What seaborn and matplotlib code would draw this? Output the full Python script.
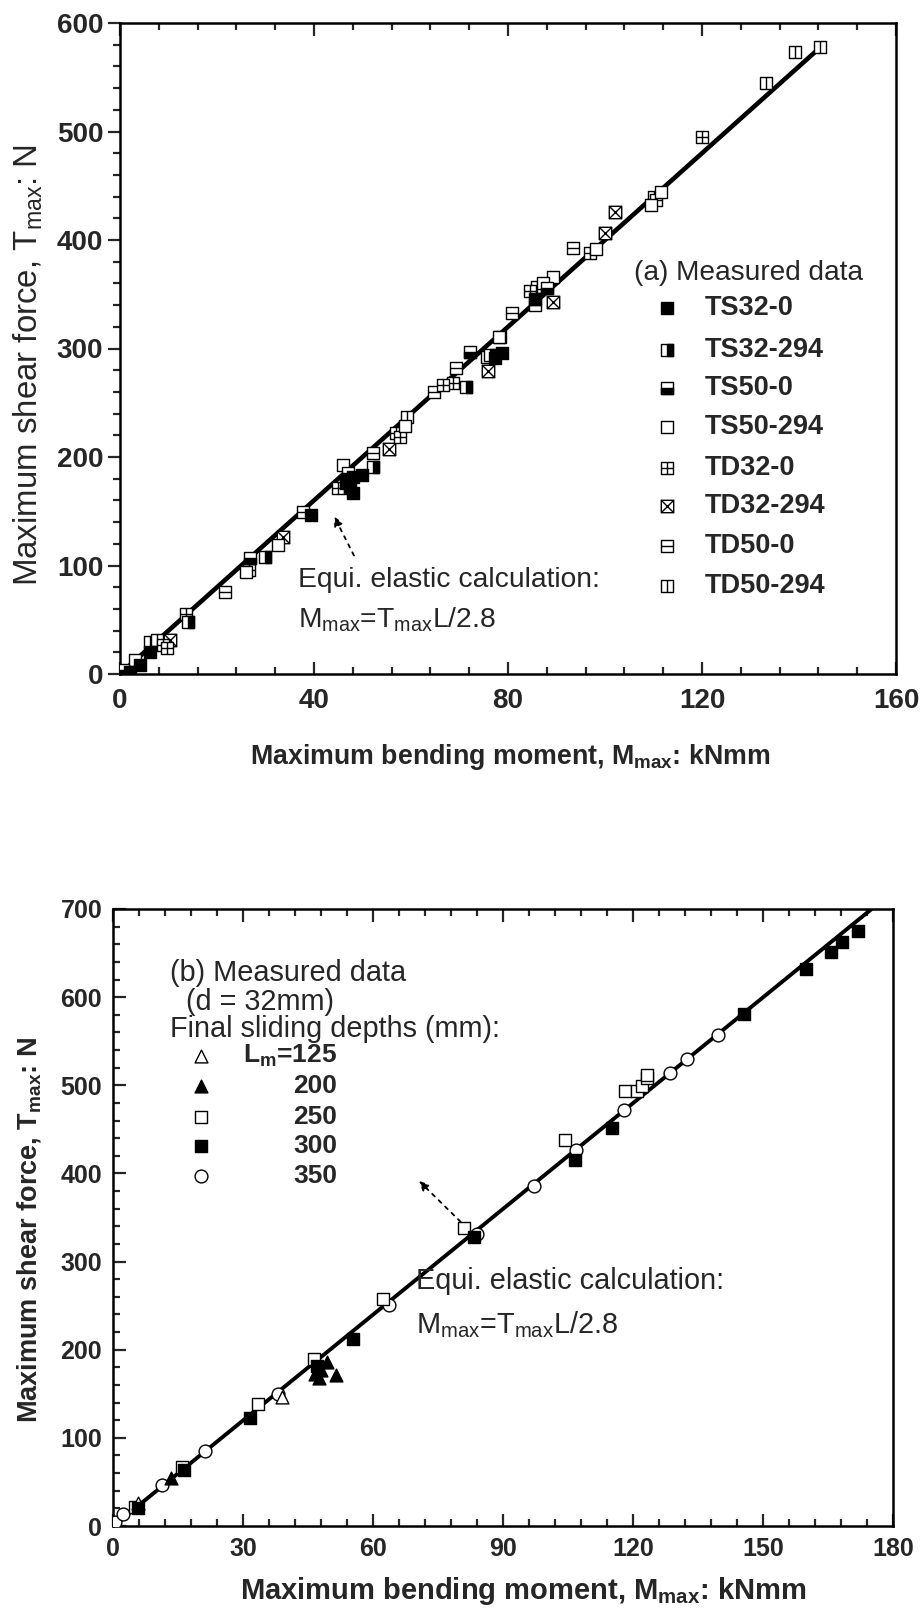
import numpy as np
import matplotlib
matplotlib.use("Agg")
import matplotlib.pyplot as plt
from matplotlib.path import Path
from matplotlib.ticker import MultipleLocator
import seaborn as sns

sns.set_theme(style="white")
plt.rcParams['font.family'] = ['Liberation Sans', 'DejaVu Sans']
plt.rcParams['mathtext.default'] = 'regular'

# ---------------- data (a) ----------------
ts32_0_x = [85.6, 78.7, 77.3, 47.4, 48.0, 49.8, 48.0, 39.3, 6.2, 4.1, 2.0, 46.5]
ts32_0_y = [346, 295.6, 291, 171, 182, 183.4, 166.8, 146.5, 20.6, 8.3, 2.0, 176]
ts32_294_x = [71.3, 52.2, 29.9, 14.1, 76.3]
ts32_294_y = [264.5, 191, 108.1, 48, 294]
ts50_0_x = [72.2, 26.8, 88.0, 0.7, 47.0]
ts50_0_y = [297, 106.6, 356, 3.7, 185]
ts50_294_x = [78.2, 75.6, 89.3, 87.2, 46.0, 98.1, 109.5, 111.5, 32.6, 26.0, 3.1, 58.8]
ts50_294_y = [311, 292, 365.6, 360.6, 192.6, 392, 432, 444, 118.9, 94, 12.9, 228.6]
td32_0_x = [119.9, 96.9, 84.5, 68.7, 66.5, 56.9, 57.7, 45.0, 26.5, 13.6, 8.9, 9.6, 78.4]
td32_0_y = [495, 388, 353, 267.8, 266, 221.8, 218.7, 171, 95.9, 55, 26.7, 23.7, 311]
td32_294_x = [102.0, 100.1, 89.2, 75.8, 55.5, 33.7, 10.3]
td32_294_y = [426, 406, 343, 279.6, 207.4, 126.5, 31.3]
td50_0_x = [93.3, 80.8, 69.3, 64.7, 52.2, 37.8, 21.6, 85.6, 110.5]
td50_0_y = [393, 333, 281.7, 260, 204, 149.7, 76, 340, 437]
td50_294_x = [139.2, 144.3, 133.1, 110.0, 59.1, 6.2, 7.6, 85.9]
td50_294_y = [573.6, 578, 545, 440, 237, 29.8, 31.3, 356.4]

# ---------------- data (b) ----------------
lm125_x = [5.8, 39.0]
lm125_y = [25.8, 146.7]
lm200_x = [13.4, 46.5, 48.0, 49.4, 51.5, 47.5]
lm200_y = [54, 173, 177, 186, 171, 168]
lm250_x = [5.1, 15.8, 33.5, 46.4, 62.3, 80.9, 104.2, 118.1, 120.9, 121.9, 123.1, 123.1]
lm250_y = [22, 67, 138, 190, 258, 338.5, 438, 494, 494, 499, 508, 512]
lm300_x = [5.6, 16.3, 31.5, 47.0, 55.4, 83.2, 106.5, 115.1, 145.6, 159.9, 165.6, 168.2, 171.9]
lm300_y = [20, 63, 122, 182, 212, 328, 415, 451, 581, 632, 651.6, 663, 675.4]
lm350_x = [0.3, 2.2, 11.3, 21.2, 38.1, 63.7, 84.0, 97.0, 106.8, 117.9, 128.5, 132.5, 139.6]
lm350_y = [4.7, 14, 47, 85, 150, 251, 331.5, 386, 426.6, 472, 514, 529.5, 557]

# equivalent elastic calculation M = T L / 2.8
L_mm = 700.0
line_a_M = np.array([0.0, 144.5])
line_b_M = np.array([0.0, 175.0])

def calc_T(M):
    return 2800.0 * M / L_mm

# ---------------- markers ----------------
M_, L_ = Path.MOVETO, Path.LINETO
sq_v = [(-1, -1), (1, -1), (1, 1), (-1, 1), (-1, -1)]
sq_c = [M_, L_, L_, L_, Path.CLOSEPOLY]
P_sq = Path(sq_v, sq_c)
P_grid = Path(sq_v + [(0, -1), (0, 1), (-1, 0), (1, 0)], sq_c + [M_, L_, M_, L_])
P_x = Path(sq_v + [(-1, -1), (1, 1), (-1, 1), (1, -1)], sq_c + [M_, L_, M_, L_])
P_h = Path(sq_v + [(-1, 0), (1, 0)], sq_c + [M_, L_])
P_v = Path(sq_v + [(0, -1), (0, 1)], sq_c + [M_, L_])
P_right = Path([(0, -1), (1, -1), (1, 1), (0, 1), (0, -1)], sq_c)
P_bottom = Path([(-1, -1), (1, -1), (1, 0), (-1, 0), (-1, -1)], sq_c)

MS_A = 80
LW_A = 1.0

def draw_a(ax, x, y, kind):
    kw = dict(s=MS_A, linewidth=LW_A, edgecolor='black', zorder=4, ax=ax, legend=False)
    if kind == 'ts32_0':
        sns.scatterplot(x=x, y=y, marker=P_sq, color='black', **kw)
    elif kind == 'ts32_294':
        sns.scatterplot(x=x, y=y, marker=P_sq, color='white', **kw)
        sns.scatterplot(x=x, y=y, marker=P_right, color='black', **kw)
    elif kind == 'ts50_0':
        sns.scatterplot(x=x, y=y, marker=P_sq, color='white', **kw)
        sns.scatterplot(x=x, y=y, marker=P_bottom, color='black', **kw)
    elif kind == 'ts50_294':
        sns.scatterplot(x=x, y=y, marker=P_sq, color='white', **kw)
    elif kind == 'td32_0':
        sns.scatterplot(x=x, y=y, marker=P_grid, color='white', **kw)
    elif kind == 'td32_294':
        sns.scatterplot(x=x, y=y, marker=P_x, color='white', **kw)
    elif kind == 'td50_0':
        sns.scatterplot(x=x, y=y, marker=P_h, color='white', **kw)
    elif kind == 'td50_294':
        sns.scatterplot(x=x, y=y, marker=P_v, color='white', **kw)

W, H = 924, 1618
fig = plt.figure(figsize=(W / 100, H / 100), dpi=100)
ax1 = fig.add_axes([120 / W, 1 - 674 / H, 776 / W, 651 / H])
ax2 = fig.add_axes([113.3 / W, 1 - 1526 / H, 780 / W, 617 / H])

for ax in (ax1, ax2):
    ax.set_facecolor('white')
    for sp in ax.spines.values():
        sp.set_visible(True)
        sp.set_color('black')
        sp.set_linewidth(1.8)

# ---------------- panel (a) ----------------
sns.lineplot(x=line_a_M, y=calc_T(line_a_M), color='black', linewidth=3.3, ax=ax1, zorder=3)
series_a = [
    ('td50_294', td50_294_x, td50_294_y), ('td50_0', td50_0_x, td50_0_y),
    ('td32_294', td32_294_x, td32_294_y), ('td32_0', td32_0_x, td32_0_y),
    ('ts50_294', ts50_294_x, ts50_294_y), ('ts50_0', ts50_0_x, ts50_0_y),
    ('ts32_294', ts32_294_x, ts32_294_y), ('ts32_0', ts32_0_x, ts32_0_y),
]
for kind, x, y in series_a:
    draw_a(ax1, x, y, kind)

ax1.set_xlim(0, 160)
ax1.set_ylim(0, 600)
ax1.xaxis.set_major_locator(MultipleLocator(40))
ax1.xaxis.set_minor_locator(MultipleLocator(8))
ax1.yaxis.set_major_locator(MultipleLocator(100))
ax1.yaxis.set_minor_locator(MultipleLocator(20))
ax1.tick_params(axis='x', which='both', direction='in', top=True, bottom=True, width=1.6)
ax1.tick_params(axis='y', which='both', direction='out', left=True, right=False, width=1.6)
ax1.tick_params(which='major', length=9)
ax1.tick_params(which='minor', length=5)
ax1.tick_params(axis='x', pad=10)
ax1.tick_params(axis='y', pad=3)
for lab in ax1.get_xticklabels() + ax1.get_yticklabels():
    lab.set_fontsize(20)
    lab.set_fontweight('bold')

ax1.set_xlabel('Maximum bending moment, M$_{max}$: kNmm', fontsize=19.3,
               fontweight='bold', va='center')
ax1.xaxis.set_label_coords(0.503, -0.1275)
ax1.set_ylabel('Maximum shear force, T$_{max}$: N', fontsize=23.8, va='center')
ax1.yaxis.set_label_coords(-0.1186, 0.474)

# legend (a)
ax1.text(106, 370, '(a) Measured data', fontsize=20.2, va='center', ha='left')
leg_kinds = ['ts32_0', 'ts32_294', 'ts50_0', 'ts50_294', 'td32_0', 'td32_294', 'td50_0', 'td50_294']
leg_names = ['TS32-0', 'TS32-294', 'TS50-0', 'TS50-294', 'TD32-0', 'TD32-294', 'TD50-0', 'TD50-294']
leg_y = [337.5, 298.6, 263.4, 227.3, 190.2, 155.0, 117.9, 80.8]
for k, nm, yy in zip(leg_kinds, leg_names, leg_y):
    draw_a(ax1, [112.8], [yy], k)
    ax1.text(120.5, yy, nm, fontsize=19.5, fontweight='bold', va='center', ha='left')

ax1.text(36.8, 86.4, 'Equi. elastic calculation:', fontsize=20.3, va='center', ha='left')
ax1.text(36.8, 50.2, 'M$_{max}$=T$_{max}$L/2.8', fontsize=20.3, va='center', ha='left')
ax1.annotate('', xy=(43.9, 147.5), xytext=(48.5, 106.9),
             arrowprops=dict(arrowstyle='-|>', linestyle=(0, (2, 3)), color='black',
                             lw=1.3, mutation_scale=14))

# ---------------- panel (b) ----------------
sns.lineplot(x=line_b_M, y=calc_T(line_b_M), color='black', linewidth=2.8, ax=ax2, zorder=3)
kwb = dict(s=85, linewidth=1.0, edgecolor='black', zorder=4, ax=ax2, legend=False)
sns.scatterplot(x=lm350_x, y=lm350_y, marker='o', color='white', **kwb)
sns.scatterplot(x=lm250_x, y=lm250_y, marker='s', color='white', **kwb)
sns.scatterplot(x=lm125_x, y=lm125_y, marker='^', color='white', **kwb)
sns.scatterplot(x=lm300_x, y=lm300_y, marker='s', color='black', **kwb)
sns.scatterplot(x=lm200_x, y=lm200_y, marker='^', color='black', **kwb)

ax2.set_xlim(0, 180)
ax2.set_ylim(0, 700)
ax2.xaxis.set_major_locator(MultipleLocator(30))
ax2.xaxis.set_minor_locator(MultipleLocator(6))
ax2.yaxis.set_major_locator(MultipleLocator(100))
ax2.yaxis.set_minor_locator(MultipleLocator(20))
ax2.tick_params(which='both', direction='in', top=True, bottom=True, left=True, right=False, width=1.6)
ax2.tick_params(which='major', length=9)
ax2.tick_params(which='minor', length=5)
ax2.tick_params(axis='x', pad=8)
ax2.tick_params(axis='y', pad=8)
for lab in ax2.get_xticklabels() + ax2.get_yticklabels():
    lab.set_fontsize(18)
    lab.set_fontweight('bold')

ax2.set_xlabel('Maximum bending moment, M$_{max}$: kNmm', fontsize=21,
               fontweight='bold', va='center')
ax2.xaxis.set_label_coords(0.526, -0.105)
ax2.set_ylabel('Maximum shear force, T$_{max}$: N', fontsize=19.5, fontweight='bold', va='center')
ax2.yaxis.set_label_coords(-0.108, 0.48)

ax2.text(13.2, 627.9, '(b) Measured data', fontsize=20.8, va='center', ha='left')
ax2.text(16.7, 595, '(d = 32mm)', fontsize=20.8, va='center', ha='left')
ax2.text(13.2, 563.4, 'Final sliding depths (mm):', fontsize=20.8, va='center', ha='left')
leg_b = [('^', 'white', 'L$_m$=125', 533), ('^', 'black', '200', 499),
         ('s', 'white', '250', 463.9), ('s', 'black', '300', 431), ('o', 'white', '350', 397)]
for mk, fc, nm, yy in leg_b:
    sns.scatterplot(x=[20.3], y=[yy], marker=mk, color=fc, **kwb)
    ax2.text(51.6, yy, nm, fontsize=19, fontweight='bold', va='center', ha='right')

ax2.text(69.9, 277.6, 'Equi. elastic calculation:', fontsize=20.8, va='center', ha='left')
ax2.text(69.9, 228.4, 'M$_{max}$=T$_{max}$L/2.8', fontsize=20.8, va='center', ha='left')
ax2.annotate('', xy=(70.1, 393.6), xytext=(80.6, 343),
             arrowprops=dict(arrowstyle='-|>', linestyle=(0, (2, 3)), color='black',
                             lw=1.3, mutation_scale=14))

fig.savefig('out.png', dpi=100, facecolor='white')
